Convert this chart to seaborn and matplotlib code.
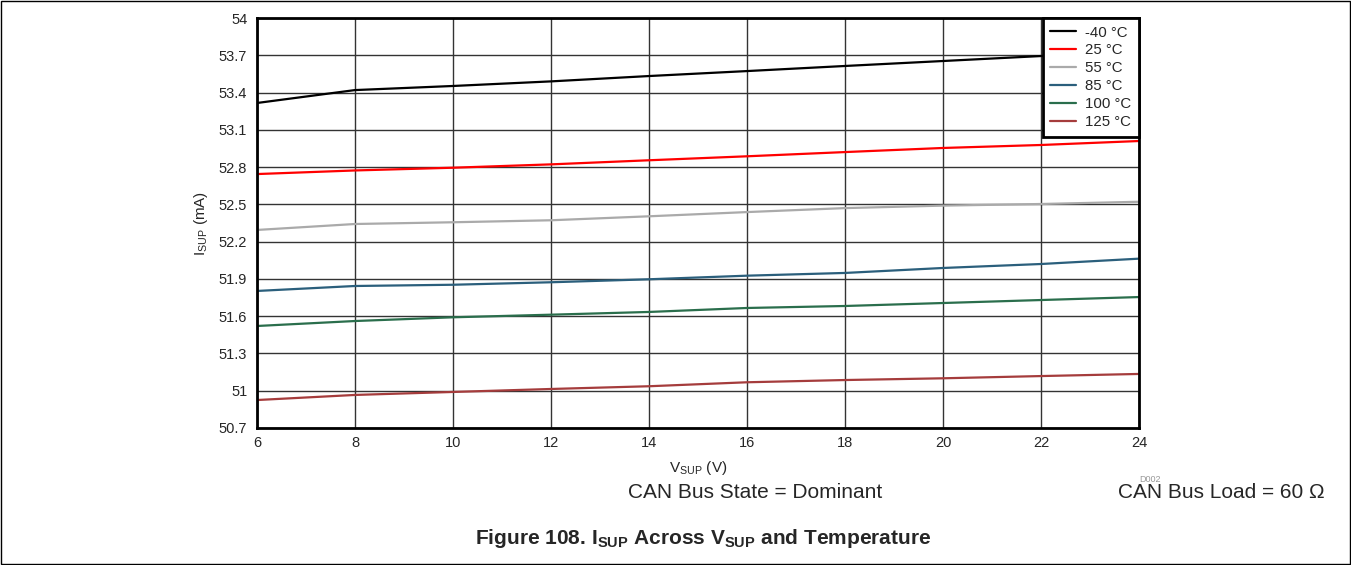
import numpy as np
import pandas as pd
import matplotlib.pyplot as plt
import seaborn as sns
from matplotlib.patches import Rectangle

# values
vsup = [6, 8, 10, 12, 14, 16, 18, 20, 22, 24]
temps = ['-40 °C', '25 °C', '55 °C', '85 °C', '100 °C', '125 °C']
i_m40 = [53.316, 53.42, 53.453, 53.49, 53.533, 53.573, 53.614, 53.654, 53.694, 53.73]
i_25 = [52.744, 52.773, 52.795, 52.822, 52.855, 52.887, 52.921, 52.954, 52.978, 53.01]
i_55 = [52.294, 52.342, 52.356, 52.372, 52.404, 52.438, 52.47, 52.49, 52.503, 52.521]
i_85 = [51.803, 51.843, 51.853, 51.873, 51.897, 51.926, 51.948, 51.988, 52.02, 52.063]
i_100 = [51.521, 51.561, 51.591, 51.612, 51.634, 51.666, 51.682, 51.706, 51.73, 51.754]
i_125 = [50.925, 50.966, 50.99, 51.014, 51.036, 51.068, 51.086, 51.1, 51.118, 51.135]
colors = ['#000000', '#ff0000', '#aaaaaa', '#2b5f7c', '#2a6e4c', '#a53c3c']
yticks = [50.7, 51, 51.3, 51.6, 51.9, 52.2, 52.5, 52.8, 53.1, 53.4, 53.7, 54]
xticks = [6, 8, 10, 12, 14, 16, 18, 20, 22, 24]

series = [i_m40, i_25, i_55, i_85, i_100, i_125]
df = pd.concat([pd.DataFrame({'VSUP': vsup, 'ISUP': s, 'Temp': t})
                for s, t in zip(series, temps)], ignore_index=True)

sns.set_style('white')
plt.rcParams['font.family'] = ['Liberation Sans', 'DejaVu Sans']
plt.rcParams['mathtext.fontset'] = 'custom'
plt.rcParams['mathtext.rm'] = 'Liberation Sans'
plt.rcParams['mathtext.bf'] = 'Liberation Sans:bold'

fig = plt.figure(figsize=(13.51, 5.65), dpi=100)
ax = fig.add_axes([0.1902, 0.2425, 0.6529, 0.7256])

sns.lineplot(data=df, x='VSUP', y='ISUP', hue='Temp', hue_order=temps,
             palette=colors, linewidth=1.6, ax=ax)

ax.set_xlim(6, 24)
ax.set_ylim(50.7, 54)
ax.set_xticks(xticks)
ax.set_yticks(yticks)
ax.set_yticklabels([f'{v:g}' for v in yticks])
ax.tick_params(axis='both', labelsize=10.5, length=0)
ax.tick_params(axis='y', pad=7)
ax.tick_params(axis='x', pad=6)
ax.grid(True, color='#333333', linewidth=1.0)
for sp in ax.spines.values():
    sp.set_linewidth(2)
    sp.set_color('black')

ax.set_xlabel(r'V$_{\mathrm{SUP}}$ (V)', fontsize=11, labelpad=6)
ax.set_ylabel(r'I$_{\mathrm{SUP}}$ (mA)', fontsize=11, labelpad=6)

leg = ax.legend(loc='upper right', fontsize=10.8, frameon=True, fancybox=False,
                borderaxespad=0, handlelength=1.75, labelspacing=0.26,
                borderpad=0.5, handletextpad=0.6)
leg.get_frame().set_edgecolor('black')
leg.get_frame().set_linewidth(2)
leg.get_frame().set_alpha(1)

fig.text(1150 / 1351, 1 - 480 / 565, 'D002', fontsize=6.5, color='#999999', ha='center', va='center')
fig.text(755 / 1351, 1 - 492 / 565, 'CAN Bus State = Dominant', fontsize=15, ha='center', va='center')
fig.text(1325 / 1351, 1 - 492 / 565, 'CAN Bus Load = 60 Ω', fontsize=15, ha='right', va='center')
fig.text(703 / 1351, 1 - 538 / 565,
         r'Figure 108. I$_{\mathbf{SUP}}$ Across V$_{\mathbf{SUP}}$ and Temperature',
         fontsize=15, fontweight='bold', ha='center', va='center')

fig.patches.append(Rectangle((0.0005, 0.001), 0.999, 0.998, transform=fig.transFigure,
                             fill=False, edgecolor='black', linewidth=1))

fig.savefig('out.png', dpi=100)
